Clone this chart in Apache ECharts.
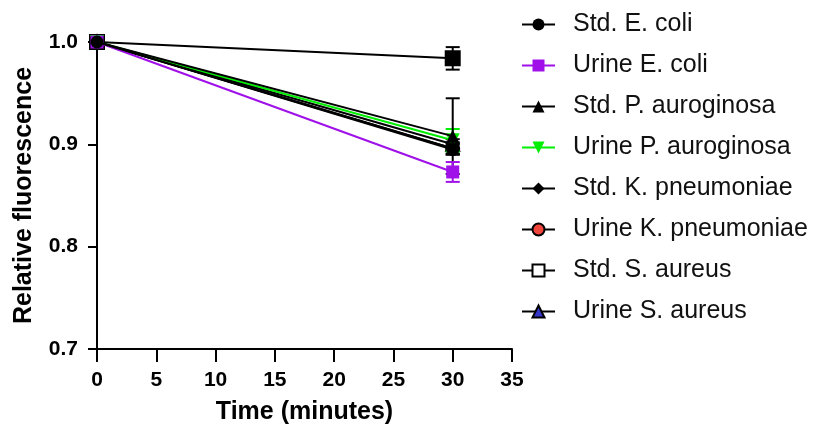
<!DOCTYPE html>
<html>
<head>
<meta charset="utf-8">
<script src="https://cdn.jsdelivr.net/npm/echarts@6/dist/echarts.min.js"></script>
<style>html,body{margin:0;padding:0;background:#fff;}#c{width:814px;height:431px;}</style>
</head>
<body>
<div id="c"></div>
<script>
var times = [0, 30];
var seriesNames = ['Std. E. coli','Urine E. coli','Std. P. auroginosa','Urine P. auroginosa','Std. K. pneumoniae','Urine K. pneumoniae','Std. S. aureus','Urine S. aureus'];
var stdEcoli = [1.0, 0.895];
var urineEcoli = [1.0, 0.873];
var stdPaur = [1.0, 0.908];
var urinePaur = [1.0, 0.904];
var stdKpn = [1.0, 0.896];
var urineKpn = [1.0, 0.896];
var stdSaur = [1.0, 0.984];
var urineSaur = [1.0, 0.900];
var errStdEcoli = [0, 0.005];
var errUrineEcoli = [0, 0.0097];
var errStdPaur = [0, 0.037];
var errUrinePaur = [0, 0.011];
var errStdKpn = [0, 0.005];
var errUrineKpn = [0, 0.006];
var errStdSaur = [0, 0.011];
var errUrineSaur = [0, 0.005];
var xTicks = [0, 5, 10, 15, 20, 25, 30, 35];
var yTicks = [0.7, 0.8, 0.9, 1.0];

var values = [stdEcoli, urineEcoli, stdPaur, urinePaur, stdKpn, urineKpn, stdSaur, urineSaur];
var errs = [errStdEcoli, errUrineEcoli, errStdPaur, errUrinePaur, errStdKpn, errUrineKpn, errStdSaur, errUrineSaur];
var lineColors = ['#000','#a010e8','#000','#00ee00','#000','#000','#000','#000'];
var fillColors = ['#000','#a010e8','#000','#00ee00','#000','#f0453a','#000','#3535c8'];
var legendFill = ['#000','#a010e8','#000','#00ee00','#000','#f0453a','#fff','#3535c8'];
var borderColors = ['#000','#a010e8','#000','#00ee00','#000','#000','#000','#000'];
var symbols = ['circle','rect','triangle','triangle','diamond','circle','rect','triangle'];
var rotates = [0,0,0,180,0,0,0,0];
var sizes = [13,13,13,14,12,13,14,13];
var borderW = [0,0,0,0,0,2,2,2];
var FONT = 'Liberation Sans, Arial, sans-serif';

var series = [];
seriesNames.forEach(function(name, i){
  var z = 20 - 2*i;
  series.push({
    name: name, type: 'line', z: z,
    data: times.map(function(t, k){ return [t, values[i][k]]; }),
    symbol: symbols[i], symbolSize: sizes[i], symbolRotate: rotates[i],
    showAllSymbol: true, clip: false,
    lineStyle: {color: lineColors[i], width: 2},
    itemStyle: {color: fillColors[i], borderColor: borderColors[i], borderWidth: borderW[i]},
    emphasis: {disabled: true}
  });
  series.push({
    name: name + ' err', type: 'custom', z: z - 1, clip: false,
    data: times.map(function(t, k){ return [t, values[i][k], errs[i][k]]; }),
    renderItem: function(params, api){
      var x = api.value(0), y = api.value(1), e = api.value(2);
      if (!e) return null;
      var top = api.coord([x, y + e]);
      var bot = api.coord([x, y - e]);
      var hw = 7;
      var st = {stroke: lineColors[i], lineWidth: 2};
      return {type: 'group', children: [
        {type: 'line', shape: {x1: top[0], y1: top[1], x2: bot[0], y2: bot[1]}, style: st},
        {type: 'line', shape: {x1: top[0]-hw, y1: top[1], x2: top[0]+hw, y2: top[1]}, style: st},
        {type: 'line', shape: {x1: bot[0]-hw, y1: bot[1], x2: bot[0]+hw, y2: bot[1]}, style: st}
      ]};
    }
  });
});

var chart = echarts.init(document.getElementById('c'), null, {renderer: 'canvas'});
chart.setOption({
  animation: false,
  backgroundColor: '#fff',
  grid: {left: 97, right: 302, top: 42, bottom: 82, containLabel: false},
  legend: {
    orient: 'vertical', left: 516, top: 7,
    data: seriesNames.map(function(n, i){
      return {name: n, itemStyle: {color: legendFill[i], borderColor: borderColors[i], borderWidth: borderW[i]}};
    }),
    itemWidth: 33, itemHeight: 15, itemGap: 16,
    textStyle: {fontFamily: FONT, fontSize: 25, color: '#111', padding: [0, 0, 0, 13]},
    selectedMode: false
  },
  xAxis: {
    type: 'value', min: 0, max: 35, interval: 5,
    name: 'Time (minutes)', nameLocation: 'middle', nameGap: 51,
    nameTextStyle: {fontFamily: FONT, fontSize: 25, fontWeight: 'bold', color: '#000'},
    axisLine: {show: true, onZero: false, lineStyle: {color: '#000', width: 2}},
    axisTick: {show: true, length: 13, lineStyle: {color: '#000', width: 2}},
    axisLabel: {margin: 21, fontFamily: FONT, fontSize: 21, fontWeight: 'bold', color: '#000',
      customValues: xTicks},
    splitLine: {show: false}
  },
  yAxis: {
    type: 'value', min: 0.7, max: 1.0, interval: 0.1,
    name: 'Relative fluorescence', nameLocation: 'middle', nameGap: 60,
    nameTextStyle: {fontFamily: FONT, fontSize: 25, fontWeight: 'bold', color: '#000'},
    axisLine: {show: true, onZero: false, lineStyle: {color: '#000', width: 2}},
    axisTick: {show: true, length: 9, lineStyle: {color: '#000', width: 2}},
    axisLabel: {margin: 19, fontFamily: FONT, fontSize: 21, fontWeight: 'bold', color: '#000',
      formatter: function(v){ return v.toFixed(1); }},
    splitLine: {show: false}
  },
  series: series
});
</script>
</body>
</html>
